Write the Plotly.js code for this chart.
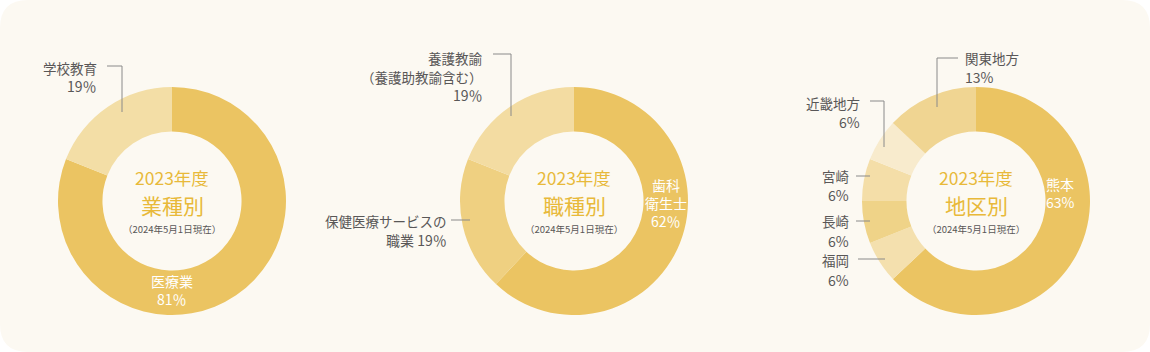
<!DOCTYPE html>
<html>
<head>
<meta charset="utf-8">
<script src="https://cdn.plot.ly/plotly-3.0.1.min.js"></script>
<style>html,body{margin:0;padding:0;background:#fff;}#chart{width:1150px;height:352px;}</style>
</head>
<body>
<div id="chart"></div>
<script>
// ---- data ----
const industryLabels = ['医療業', '学校教育'];
const industryValues = [81, 19];
const industryColors = ['#ebc462', '#f3dea6'];

const jobLabels = ['歯科衛生士', '保健医療サービスの職業', '養護教諭（養護助教諭含む）'];
const jobValues = [62, 19, 19];
const jobColors = ['#ebc462', '#efd081', '#f3dca2'];

const regionLabels = ['熊本', '福岡', '長崎', '宮崎', '近畿地方', '関東地方'];
const regionValues = [63, 6, 6, 6, 6, 13];
const regionColors = ['#ebc462', '#f4e0ae', '#efd388', '#f4dea8', '#f8ebcd', '#f0d592'];

const yearText = '2023年度';
const chartTitles = ['業種別', '職種別', '地区別'];
const asOfText = '（2024年5月1日現在）';

// ---- layout helpers ----
const W = 1150, H = 352;
const R = 114, CY = 201;
const centers = [172, 574, 976];
const FONT = '"Noto Sans CJK JP", "Noto Sans", sans-serif';
const GRAY = '#595757';
const GOLD = '#e8b93a';

function dom(cx) {
  return {
    x: [(cx - R) / W, (cx + R) / W],
    y: [(H - CY - R) / H, (H - CY + R) / H]
  };
}
function px(x) { return x / W; }
function py(y) { return 1 - y / H; }

function pie(labels, values, colors, cx) {
  return {
    type: 'pie', labels: labels, values: values,
    marker: { colors: colors, line: { width: 0 } },
    hole: 0.61, sort: false, direction: 'clockwise', rotation: 0,
    textinfo: 'none', hoverinfo: 'label+percent', showlegend: false,
    domain: dom(cx)
  };
}

const data = [
  pie(industryLabels, industryValues, industryColors, centers[0]),
  pie(jobLabels, jobValues, jobColors, centers[1]),
  pie(regionLabels, regionValues, regionColors, centers[2])
];

const annotations = [];
function txt(text, x, y, opts) {
  opts = opts || {};
  annotations.push({
    xref: 'paper', yref: 'paper', x: px(x), y: py(y),
    xanchor: opts.anchor || 'center', yanchor: 'middle',
    text: text, showarrow: false,
    font: { family: FONT, size: opts.size || 13.5, color: opts.color || GRAY }
  });
}
const pctW = v => v + '％';
const pct = v => v + '%';

// center texts
centers.forEach((cx, i) => {
  txt(yearText, cx, 177, { size: 17.5, color: GOLD });
  txt(chartTitles[i], cx, 205, { size: 21, color: GOLD });
  txt(asOfText, cx, 229, { size: 9.5, color: GRAY });
});

// donut 1 labels
txt(industryLabels[1], 99, 68, { anchor: 'right' });
txt(pctW(industryValues[1]), 99, 86, { anchor: 'right', size: 14 });
txt(industryLabels[0], 172, 281, { color: '#ffffff', size: 14 });
txt(pctW(industryValues[0]), 172, 299, { color: '#ffffff', size: 14 });

// donut 2 labels
txt('養護教諭', 485, 58, { anchor: 'right' });
txt('（養護助教諭含む）', 485, 77, { anchor: 'right' });
txt(pctW(jobValues[2]), 485, 95, { anchor: 'right', size: 14 });
txt('保健医療サービスの', 449, 221, { anchor: 'right' });
txt('職業 ' + pctW(jobValues[1]), 449, 240, { anchor: 'right', size: 14 });
txt('歯科', 666, 185, { color: '#ffffff', size: 14 });
txt('衛生士', 666, 203, { color: '#ffffff', size: 14 });
txt(pctW(jobValues[0]), 666, 221, { color: '#ffffff', size: 14 });

// donut 3 labels
txt(regionLabels[5], 963, 58, { anchor: 'left' });
txt(pct(regionValues[5]), 963, 77, { anchor: 'left', size: 14 });
txt(regionLabels[4], 862, 103, { anchor: 'right' });
txt(pct(regionValues[4]), 862, 122, { anchor: 'right', size: 14 });
txt(regionLabels[3], 851, 176, { anchor: 'right' });
txt(pct(regionValues[3]), 851, 195, { anchor: 'right', size: 14 });
txt(regionLabels[2], 851, 221, { anchor: 'right' });
txt(pct(regionValues[2]), 851, 241, { anchor: 'right', size: 14 });
txt(regionLabels[1], 851, 260, { anchor: 'right' });
txt(pct(regionValues[1]), 851, 280, { anchor: 'right', size: 14 });
txt(regionLabels[0], 1060, 184, { color: '#ffffff', size: 14 });
txt(pct(regionValues[0]), 1060, 202, { color: '#ffffff', size: 14 });

// leader lines & background
const LINE = { color: '#8a8a8a', width: 1 };
function path(pts) {
  return 'M' + pts.map(p => px(p[0]) + ',' + py(p[1])).join(' L');
}
const shapes = [];
// rounded background panel
(function () {
  const r = 28;
  const x0 = 0, y0 = 0, x1 = W, y1 = H;
  const P = (x, y) => px(x) + ',' + py(y);
  const d = 'M' + P(x0 + r, y0) + ' L' + P(x1 - r, y0) +
    ' Q' + P(x1, y0) + ' ' + P(x1, y0 + r) +
    ' L' + P(x1, y1 - r) + ' Q' + P(x1, y1) + ' ' + P(x1 - r, y1) +
    ' L' + P(x0 + r, y1) + ' Q' + P(x0, y1) + ' ' + P(x0, y1 - r) +
    ' L' + P(x0, y0 + r) + ' Q' + P(x0, y0) + ' ' + P(x0 + r, y0) + ' Z';
  shapes.push({ type: 'path', xref: 'paper', yref: 'paper', path: d,
    fillcolor: '#fcf9f2', line: { width: 0 }, layer: 'below' });
})();
function lead(pts) {
  shapes.push({ type: 'path', xref: 'paper', yref: 'paper', path: path(pts), line: LINE });
}
lead([[107, 66], [122, 66], [122, 112]]);
lead([[493, 54], [511, 54], [511, 116]]);
lead([[451, 220], [470, 220]]);
lead([[958, 58], [937, 58], [937, 107]]);
lead([[870, 101], [884, 101], [884, 147]]);
lead([[856, 176], [870, 176]]);
lead([[856, 221], [870, 221]]);
lead([[858, 259], [885, 259]]);

const layout = {
  width: W, height: H,
  margin: { l: 0, r: 0, t: 0, b: 0 },
  paper_bgcolor: '#ffffff', plot_bgcolor: 'rgba(0,0,0,0)',
  showlegend: false,
  annotations: annotations,
  shapes: shapes
};

Plotly.newPlot('chart', data, layout, { displayModeBar: false, staticPlot: true });
</script>
</body>
</html>
